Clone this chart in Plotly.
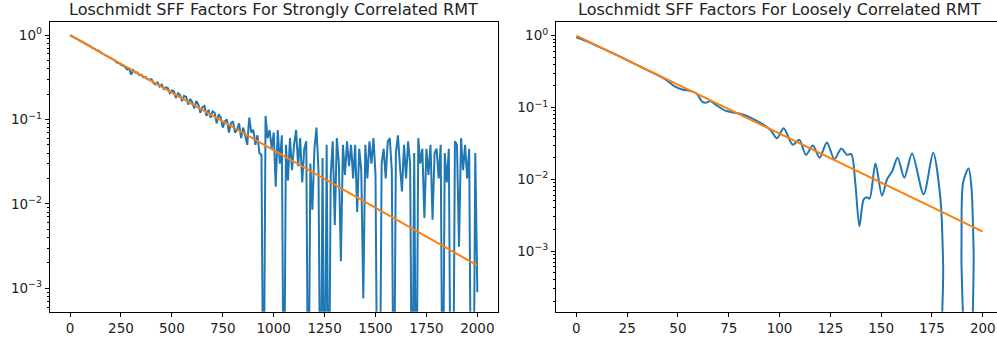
import plotly.graph_objects as go

# ---------------- data ----------------
# Left panel: strongly correlated RMT (sampled every 10 time units)
left_t = list(range(0, 2001, 10))
left_sff = [
    1.0, 0.97, 0.95, 0.91, 0.89, 0.85, 0.83, 0.80, 0.78, 0.76,
    0.735, 0.70, 0.69, 0.66, 0.655, 0.62, 0.60, 0.59, 0.57, 0.55,
    0.53, 0.51, 0.50, 0.47, 0.465, 0.445, 0.43, 0.42, 0.39, 0.40,
    0.34, 0.385, 0.36, 0.36, 0.335, 0.34, 0.315, 0.32, 0.30, 0.295,
    0.30, 0.27, 0.26, 0.275, 0.245, 0.26, 0.23, 0.24, 0.235, 0.205,
    0.22, 0.215, 0.18, 0.205, 0.195, 0.165, 0.19, 0.185, 0.15, 0.175,
    0.16, 0.135, 0.165, 0.15, 0.12, 0.14, 0.145, 0.11, 0.13, 0.105,
    0.125, 0.12, 0.09, 0.115, 0.105, 0.08, 0.095, 0.10, 0.07, 0.09,
    0.095, 0.07, 0.075, 0.09, 0.06, 0.08, 0.065, 0.05, 0.105, 0.07,
    0.075, 0.05, 0.065, 0.04, 0.038, 1e-5, 0.11, 0.06, 0.075, 0.045,
    0.07, 0.016, 0.075, 0.03, 0.065, 1e-5, 0.05, 0.019, 0.06, 0.025,
    0.05, 0.075, 0.028, 0.06, 0.018, 0.045, 0.055, 1e-5, 0.03, 0.0085,
    0.045, 0.08, 0.025, 1e-5, 0.035, 1e-5, 0.05, 1e-5, 0.022, 0.055,
    0.0056, 0.06, 0.03, 0.0021, 0.05, 0.022, 0.055, 0.028, 0.05, 0.02,
    0.05, 0.008, 0.045, 0.025, 0.00076, 0.05, 0.02, 0.055, 0.03, 0.06,
    0.022, 1e-5, 1e-5, 0.03, 0.045, 0.02, 0.055, 0.06, 0.025, 1e-5,
    0.04, 0.065, 0.028, 0.014, 0.05, 0.02, 0.055, 0.03, 1e-5, 0.04,
    1e-5, 0.06, 0.03, 0.045, 0.0068, 0.045, 0.022, 0.05, 0.0065, 0.04,
    0.045, 0.02, 0.05, 1e-5, 0.04, 0.018, 0.045, 1e-5, 1e-5, 0.055,
    0.05, 0.0031, 0.06, 0.025, 0.05, 0.02, 0.045, 1e-5, 1e-5, 0.04,
    0.0009,
]
left_fit_t = [0, 2000]
left_fit = [1.0, 0.00187]

# Right panel: loosely correlated RMT
right_t = [0, 5, 10, 15, 20, 25, 30, 35, 40, 44, 48, 52, 56, 59, 62, 64, 66, 69,
           73, 77, 81, 85, 89, 93, 96, 98.7, 102, 106.5, 109.7, 113, 116.4, 119.7,
           123.3, 127, 130.4, 133.2, 135.3, 137.3, 139.3, 141.4, 143, 144.3, 147.2,
           150.4, 152.9, 155.4, 158.1, 161.4, 165.2, 170.9, 175.6, 179.2, 180.5,
           181.5, 188.5, 189.5, 190.3, 193, 194.4, 195.5, 196.5, 200]
right_sff = [0.951, 0.841, 0.724, 0.624, 0.535, 0.457, 0.389, 0.331, 0.282, 0.245,
             0.200, 0.178, 0.170, 0.158, 0.120, 0.117, 0.123, 0.107, 0.0912, 0.0851,
             0.0813, 0.0741, 0.0646, 0.0556, 0.0468, 0.0372, 0.0513, 0.0302, 0.0355,
             0.0219, 0.0295, 0.0200, 0.0324, 0.0191, 0.0269, 0.0219, 0.0224, 0.0087,
             0.00221, 0.00525, 0.00562, 0.00537, 0.0166, 0.00589, 0.0100, 0.0129,
             0.0200, 0.0105, 0.0229, 0.00617, 0.0234, 0.00525, 0.00063, 1e-6, 1e-6,
             0.001, 0.0089, 0.0141, 0.0079, 0.001, 1e-6, 1e-6]
right_fit_t = [0, 200]
right_fit = [1.0, 0.00187]

titles = ["Loschmidt SFF Factors For Strongly Correlated RMT",
          "Loschmidt SFF Factors For Loosely Correlated RMT"]
left_xticks = [0, 250, 500, 750, 1000, 1250, 1500, 1750, 2000]
right_xticks = [0, 25, 50, 75, 100, 125, 150, 175, 200]
ytick_vals = [1, 0.1, 0.01, 0.001]
ytick_text = ["10<sup>0</sup>", "10<sup>−1</sup>", "10<sup>−2</sup>", "10<sup>−3</sup>"]

BLUE = "#1f77b4"
ORANGE = "#ff7f0e"
W, H = 997, 341

fig = go.Figure()
fig.add_trace(go.Scatter(x=left_t, y=left_sff, mode="lines",
                         line=dict(color=BLUE, width=2), xaxis="x", yaxis="y"))
fig.add_trace(go.Scatter(x=left_fit_t, y=left_fit, mode="lines",
                         line=dict(color=ORANGE, width=2), xaxis="x", yaxis="y"))
fig.add_trace(go.Scatter(x=right_t, y=right_sff, mode="lines",
                         line=dict(color=BLUE, width=2, shape="spline", smoothing=0.8),
                         xaxis="x2", yaxis="y2"))
fig.add_trace(go.Scatter(x=right_fit_t, y=right_fit, mode="lines",
                         line=dict(color=ORANGE, width=2), xaxis="x2", yaxis="y2"))

font = dict(family="DejaVu Sans", size=13.5, color="#222")
ydom = [(H - 311.7) / H, (H - 21.5) / H]
xdom1 = [49.7 / W, 497.7 / W]
xdom2 = [556.0 / W, 1.0]

common_x = dict(showgrid=False, zeroline=False, showline=True, linecolor="#000",
                linewidth=1, ticks="outside", ticklen=4, tickcolor="#000",
                tickfont=font)
common_y = dict(type="log", showgrid=False, zeroline=False, showline=True,
                linecolor="#000", linewidth=1, ticks="outside", ticklen=4,
                tickcolor="#000", tickfont=font, tickvals=ytick_vals,
                ticktext=ytick_text,
                minor=dict(ticks="outside", ticklen=2, tickcolor="#000",
                           dtick="D1", showgrid=False))

fig.update_layout(
    width=W, height=H, margin=dict(l=0, r=0, t=0, b=0),
    paper_bgcolor="white", plot_bgcolor="white", showlegend=False,
    xaxis=dict(common_x, domain=xdom1, range=[-100, 2100], anchor="y",
               mirror=True, tickvals=left_xticks),
    yaxis=dict(common_y, domain=ydom, range=[-3.277, 0.16], anchor="x",
               mirror=True),
    xaxis2=dict(common_x, domain=xdom2, range=[-10, 207], anchor="y2",
                mirror=True, tickvals=right_xticks),
    yaxis2=dict(common_y, domain=ydom, range=[-3.845, 0.198], anchor="x2",
                mirror=False),
)

for dom, txt in zip([xdom1, [556.0 / W, 1002.6 / W]], titles):
    fig.add_annotation(text=txt, xref="paper", yref="paper",
                       x=(dom[0] + dom[1]) / 2, y=(H - 10) / H,
                       xanchor="center", yanchor="middle", showarrow=False,
                       font=dict(family="DejaVu Sans", size=16, color="#222"))

fig.write_html("out.html", config={"displayModeBar": False},
               post_script="document.body.style.margin='0';document.body.style.overflow='hidden';")
